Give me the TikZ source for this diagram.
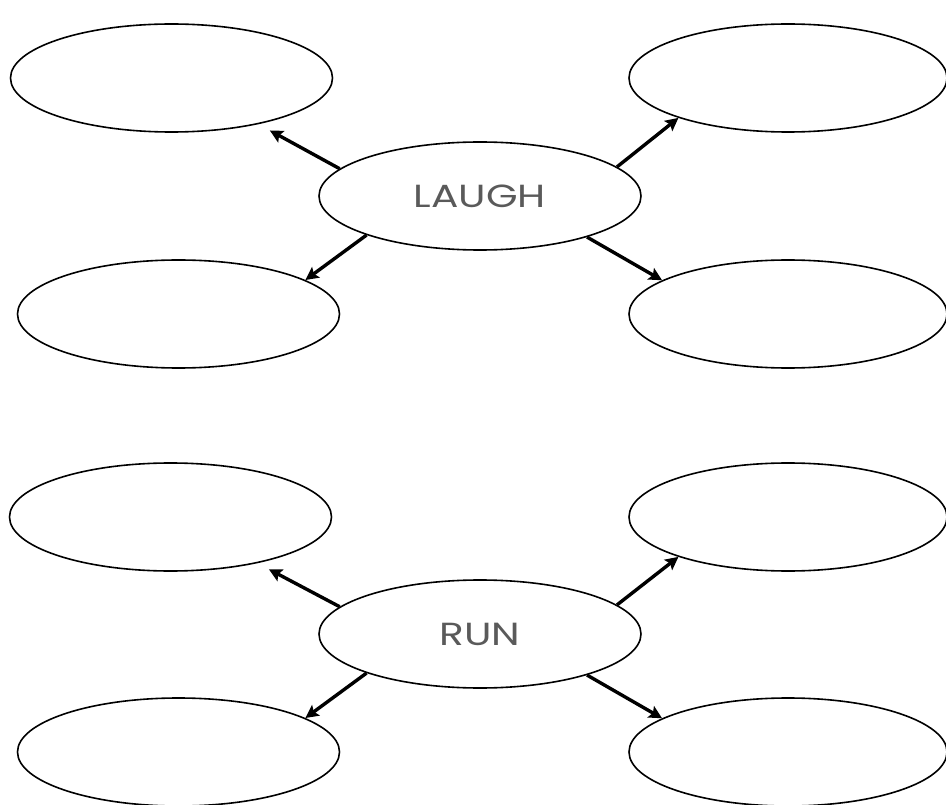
\documentclass[tikz,border=0pt]{standalone}
\usepackage{fontspec}
\setmainfont{Poppins}
\usetikzlibrary{arrows.meta,shapes.geometric}
\definecolor{wordgray}{HTML}{5A5A5A}
\newcommand{\wideword}[1]{\scalebox{1.27}[1]{#1}}
\tikzset{
  bubble/.style={ellipse, draw=black, line width=1.6pt, inner sep=0pt,
    minimum width=322pt, minimum height=108pt},
  hub/.style={bubble, text=wordgray, font=\fontsize{32}{36}\selectfont},
  link/.style={line width=3.4pt, -{Stealth[length=13pt,width=13pt,inset=2.5pt]}}
}
\begin{document}
\begin{tikzpicture}[x=1pt,y=-1pt]
\useasboundingbox (0,0) rectangle (946,805);
% upper group
\node[hub] (laugh) at (480,196) {\wideword{LAUGH}};
\node[bubble] (ltl) at (171.5,78) {};
\node[bubble, minimum width=318pt] (ltr) at (788,78) {};
\node[bubble] (lbl) at (178.5,314) {};
\node[bubble, minimum width=318pt] (lbr) at (788,314) {};
\draw[link, shorten >=13pt] (laugh.169.6) -- (ltl.-28.8);
\draw[link] (laugh.12.9) -- (ltr.-160.8);
\draw[link] (laugh.199.2) -- (lbl.15.3);
\draw[link] (laugh.-21.3) -- (lbr.165.8);
% lower group
\node[hub] (run) at (480,634) {\wideword{RUN}};
\node[bubble] (rtl) at (170.5,517) {};
\node[bubble, minimum width=318pt] (rtr) at (788,517) {};
\node[bubble] (rbl) at (178.5,752) {};
\node[bubble, minimum width=318pt] (rbr) at (788,752) {};
\draw[link, shorten >=13pt] (run.169.6) -- (rtl.-28.8);
\draw[link] (run.12.9) -- (rtr.-160.8);
\draw[link] (run.199.2) -- (rbl.15.3);
\draw[link] (run.-21.3) -- (rbr.165.8);
\end{tikzpicture}
\end{document}
